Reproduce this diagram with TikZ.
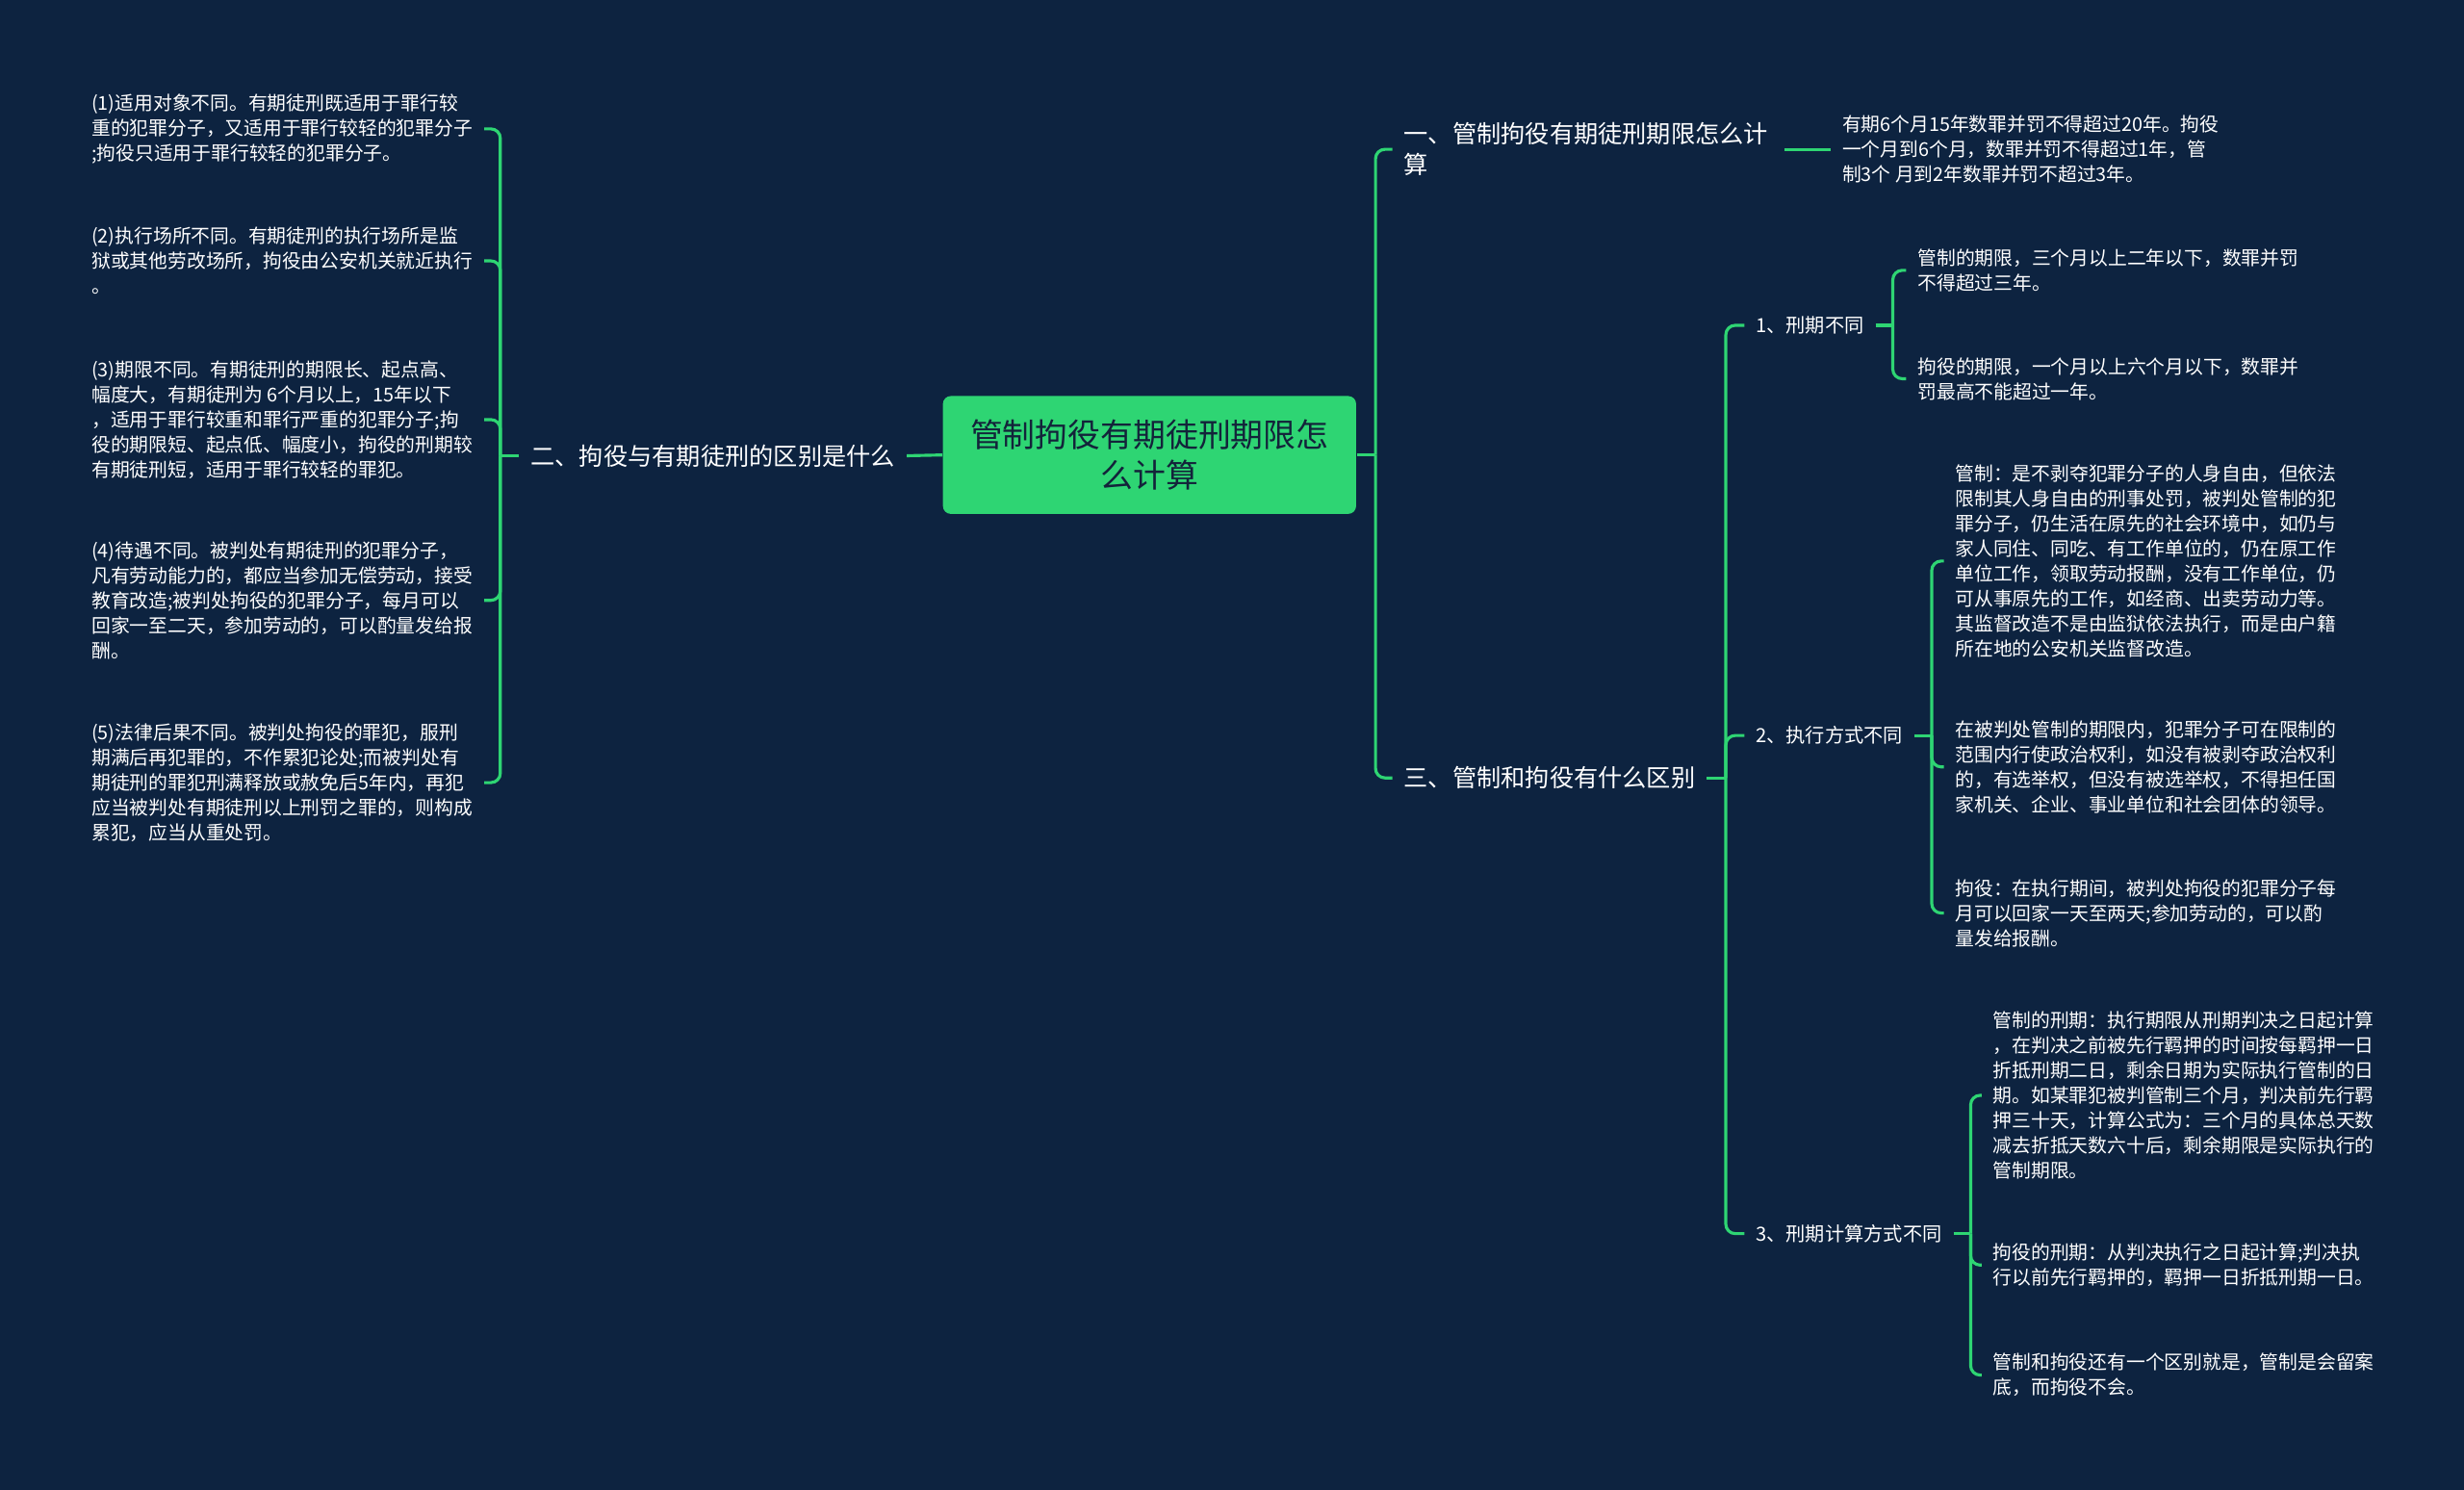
\documentclass[tikz,border=0pt]{standalone}
\usepackage{fontspec}
\setmainfont{Noto Sans CJK SC}
\usepackage{tikz}
\definecolor{bgnavy}{HTML}{0D2340}
\definecolor{mapgreen}{HTML}{2ED573}
\definecolor{rootink}{HTML}{13233A}
\tikzset{
    link/.style={draw=mapgreen, line width=1.1pt},
    hook/.style={link, rounded corners=0.12cm},
    rootbox/.style={fill=mapgreen, rounded corners=0.1cm, minimum width=5.26cm,
        minimum height=1.5cm, align=center, text=rootink,
        font=\fontsize{11.8}{14.7}\selectfont},
    branch/.style={text=white, align=left, inner xsep=0.14cm,
        font=\fontsize{8.8}{11.3}\selectfont},
    topic/.style={text=white, align=left, inner xsep=0.14cm,
        font=\fontsize{7.05}{9}\selectfont},
    leaf/.style={text=white, align=left, inner xsep=0.14cm,
        font=\fontsize{6.9}{9.07}\selectfont},
}

\begin{document}
\begin{tikzpicture}[x=0.02cm, y=-0.02cm]

    % Background
    \useasboundingbox (0,0) rectangle (1568,948);
    \fill[bgnavy] (0,0) rectangle (1568,948);

    % Root
    \node[rootbox] (root) at (731.5,289.5) {管制拘役有期徒刑期限怎\\么计算};

    % Left branch
    \node[branch, anchor=east] (b2) at (577,290) {二、拘役与有期徒刑的区别是什么};

    \node[leaf, anchor=west] (d1) at (51,82) {(1)适用对象不同。有期徒刑既适用于罪行较\\重的犯罪分子，又适用于罪行较轻的犯罪分子\\;拘役只适用于罪行较轻的犯罪分子。};
    \node[leaf, anchor=west] (d2) at (51,166) {(2)执行场所不同。有期徒刑的执行场所是监\\狱或其他劳改场所，拘役由公安机关就近执行\\。};
    \node[leaf, anchor=west] (d3) at (51,267) {(3)期限不同。有期徒刑的期限长、起点高、\\幅度大，有期徒刑为 6个月以上，15年以下\\，适用于罪行较重和罪行严重的犯罪分子;拘\\役的期限短、起点低、幅度小，拘役的刑期较\\有期徒刑短，适用于罪行较轻的罪犯。};
    \node[leaf, anchor=west] (d4) at (51,382) {(4)待遇不同。被判处有期徒刑的犯罪分子，\\凡有劳动能力的，都应当参加无偿劳动，接受\\教育改造;被判处拘役的犯罪分子，每月可以\\回家一至二天，参加劳动的，可以酌量发给报\\酬。};
    \node[leaf, anchor=west] (d5) at (51,498) {(5)法律后果不同。被判处拘役的罪犯，服刑\\期满后再犯罪的，不作累犯论处;而被判处有\\期徒刑的罪犯刑满释放或赦免后5年内，再犯\\应当被判处有期徒刑以上刑罚之罪的，则构成\\累犯，应当从重处罚。};

    % Right branches
    \node[branch, anchor=west, text width=4.7cm] (b1) at (886,95) {一、管制拘役有期徒刑期限怎么计\\算};
    \node[leaf, anchor=west] (c1) at (1165,95) {有期6个月15年数罪并罚不得超过20年。拘役\\一个月到6个月，数罪并罚不得超过1年，管\\制3个 月到2年数罪并罚不超过3年。};

    \node[branch, anchor=west] (b3) at (886,495) {三、管制和拘役有什么区别};

    \node[topic, anchor=west] (t1) at (1110,207) {1、刑期不同};
    \node[topic, anchor=west] (t2) at (1110,468) {2、执行方式不同};
    \node[topic, anchor=west] (t3) at (1110,785) {3、刑期计算方式不同};

    \node[leaf, anchor=west] (e1) at (1213,172) {管制的期限，三个月以上二年以下，数罪并罚\\不得超过三年。};
    \node[leaf, anchor=west] (e2) at (1213,241) {拘役的期限，一个月以上六个月以下，数罪并\\罚最高不能超过一年。};

    \node[leaf, anchor=west] (f1) at (1237,357) {管制：是不剥夺犯罪分子的人身自由，但依法\\限制其人身自由的刑事处罚，被判处管制的犯\\罪分子，仍生活在原先的社会环境中，如仍与\\家人同住、同吃、有工作单位的，仍在原工作\\单位工作，领取劳动报酬，没有工作单位，仍\\可从事原先的工作，如经商、出卖劳动力等。\\其监督改造不是由监狱依法执行，而是由户籍\\所在地的公安机关监督改造。};
    \node[leaf, anchor=west] (f2) at (1237,488) {在被判处管制的期限内，犯罪分子可在限制的\\范围内行使政治权利，如没有被剥夺政治权利\\的，有选举权，但没有被选举权，不得担任国\\家机关、企业、事业单位和社会团体的领导。};
    \node[leaf, anchor=west] (f3) at (1237,581) {拘役：在执行期间，被判处拘役的犯罪分子每\\月可以回家一天至两天;参加劳动的，可以酌\\量发给报酬。};

    \node[leaf, anchor=west] (g1) at (1261,697) {管制的刑期：执行期限从刑期判决之日起计算\\，在判决之前被先行羁押的时间按每羁押一日\\折抵刑期二日，剩余日期为实际执行管制的日\\期。如某罪犯被判管制三个月，判决前先行羁\\押三十天，计算公式为：三个月的具体总天数\\减去折抵天数六十后，剩余期限是实际执行的\\管制期限。};
    \node[leaf, anchor=west] (g2) at (1261,805) {拘役的刑期：从判决执行之日起计算;判决执\\行以前先行羁押的，羁押一日折抵刑期一日。};
    \node[leaf, anchor=west] (g3) at (1261,875) {管制和拘役还有一个区别就是，管制是会留案\\底，而拘役不会。};

    % Connectors
    \draw[link] (root.west) -- (b2.east);
    \draw[link] (b2.west) -- ++(-12,0) coordinate (jl);
    \foreach \n in {d1,d2,d3,d4,d5}
        \draw[hook] (jl) |- (\n.east);

    \draw[link] (root.east) -- ++(12,0) coordinate (jr);
    \foreach \n in {b1,b3}
        \draw[hook] (jr) |- (\n.west);
    \draw[link] (b1.east) -- (c1.west);

    \draw[link] (b3.east) -- ++(12,0) coordinate (j3);
    \foreach \n in {t1,t2,t3}
        \draw[hook] (j3) |- (\n.west);

    \draw[link] (t1.east) -- ++(11,0) coordinate (jt1);
    \foreach \n in {e1,e2}
        \draw[hook] (jt1) |- (\n.west);

    \draw[link] (t2.east) -- ++(11,0) coordinate (jt2);
    \foreach \n in {f1,f2,f3}
        \draw[hook] (jt2) |- (\n.west);

    \draw[link] (t3.east) -- ++(11,0) coordinate (jt3);
    \foreach \n in {g1,g2,g3}
        \draw[hook] (jt3) |- (\n.west);

\end{tikzpicture}
\end{document}
